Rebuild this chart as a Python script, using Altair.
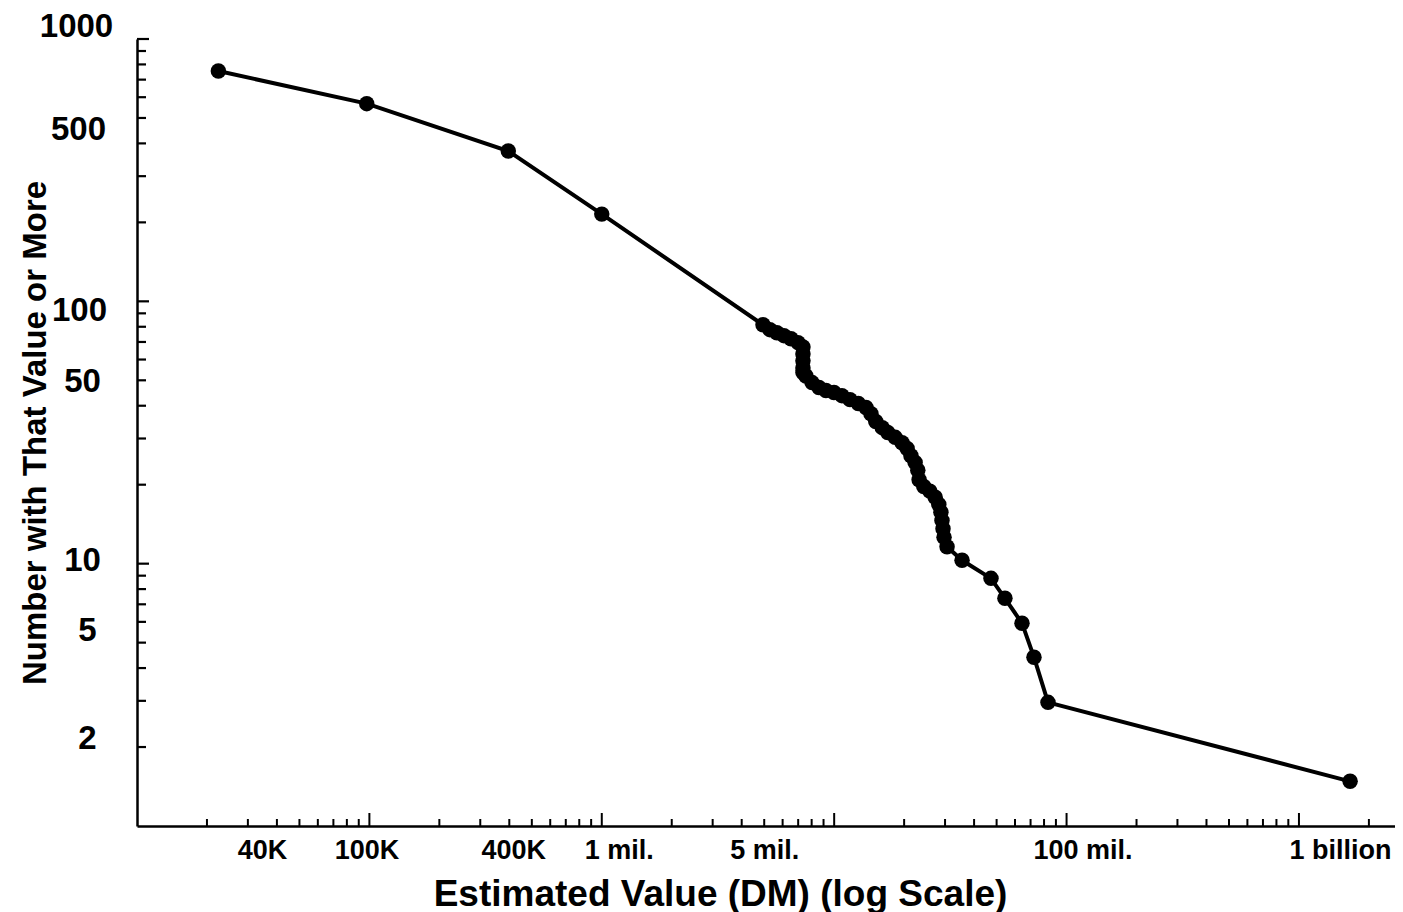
import altair as alt
import pandas as pd

# ---- data ----
est_value = [22400, 97400, 396000, 1.0e6,
             4.94e6, 5.29e6, 5.67e6, 6.08e6, 6.52e6, 6.99e6,
             7.34e6, 7.34e6, 7.34e6, 7.34e6, 7.34e6, 7.56e6,
             8.03e6, 8.60e6, 9.22e6, 9.98e6, 1.08e7, 1.17e7, 1.27e7, 1.37e7,
             1.44e7, 1.51e7, 1.61e7, 1.70e7, 1.83e7, 1.96e7, 2.06e7, 2.14e7,
             2.23e7, 2.29e7, 2.32e7, 2.43e7, 2.58e7, 2.72e7, 2.82e7, 2.88e7,
             2.91e7, 2.94e7, 2.97e7, 3.06e7, 3.55e7,
             4.73e7, 5.43e7, 6.43e7, 7.24e7, 8.32e7, 1.66e9]
num_with_value = [755, 567, 374, 215,
                  81.4, 78.0, 75.9, 74.0, 72.0, 69.6,
                  67.0, 63.0, 59.3, 55.7, 53.5, 51.9,
                  49.0, 46.9, 45.7, 44.9, 43.7, 42.2, 40.8, 39.4,
                  37.3, 34.8, 33.0, 31.6, 30.3, 28.9, 27.5, 25.8,
                  24.3, 22.7, 20.9, 19.7, 18.9, 17.9, 16.8, 15.7,
                  14.6, 13.6, 12.6, 11.6, 10.3,
                  8.79, 7.38, 5.93, 4.40, 2.96, 1.48]

x_label_values = [4e4, 1e5, 4e5, 1e6, 5e6, 1e8, 1e9]
x_label_texts = ["40K", "100K", "400K", "1 mil.", "5 mil.", "100 mil.", "1 billion"]
y_label_values = [2, 5, 10, 50, 100, 500, 1000]
y_label_texts = ["2", "5", "10", "50", "100", "500", "1000"]

x_major_ticks = [1e5, 1e6, 1e7, 1e8, 1e9]
x_minor_ticks = [m * 10 ** e for e in range(4, 10) for m in range(2, 10) if m * 10 ** e < 2.5e9]
y_major_ticks = [10, 100, 1000]
y_minor_ticks = [m * 10 ** e for e in range(0, 3) for m in range(2, 10)]

W, H = 1258, 787
FONT = "Liberation Sans"

df = pd.DataFrame({"i": list(range(len(est_value))), "x": est_value, "y": num_with_value})


def label_expr(vals, texts):
    expr = "''"
    for v, t in reversed(list(zip(vals, texts))):
        expr = f"datum.value == {v:g} ? '{t}' : ({expr})"
    return expr


def cond(pairs, default):
    return {"condition": [{"test": f"datum.value == {v:g}", "value": o} for v, o in pairs],
            "value": default}


xscale = alt.Scale(type="log", domain=[1e4, 2.59e9], nice=False)
yscale = alt.Scale(type="log", domain=[1, 1000], nice=False)

x_axis = alt.Axis(
    values=x_label_values, labelExpr=label_expr(x_label_values, x_label_texts),
    ticks=False, tickSize=0, grid=False,
    domainColor="black", domainWidth=2.5,
    labelFont=FONT, labelFontSize=27, labelFontWeight="bold", labelColor="black",
    labelBaseline="alphabetic", labelAlign="center", labelPadding=32,
    labelFlush=False, labelOverlap=False,
    labelOffset=cond([(4e4, -15), (1e5, -3), (4e5, 4), (1e6, 17), (5e6, 0), (1e8, 16), (1e9, 41)], 0),
    title="Estimated Value (DM) (log Scale)",
    titleFont=FONT, titleFontSize=37, titleFontWeight="bold", titleColor="black",
    titleX=583, titleY=79, titleBaseline="alphabetic", titleAlign="center",
)

y_axis = alt.Axis(
    values=y_label_values, labelExpr=label_expr(y_label_values, y_label_texts),
    ticks=False, tickSize=0, grid=False,
    domainColor="black", domainWidth=2.5,
    labelFont=FONT, labelFontSize=33, labelFontWeight="bold", labelColor="black",
    labelBaseline="middle", labelAlign="center",
    labelPadding=cond([(1000, 61), (500, 59), (100, 58), (50, 55), (10, 55), (5, 50), (2, 50)], 55),
    labelOffset=cond([(1000, -13), (500, 12), (100, 9), (50, 1), (10, -3), (5, -12), (2, -9)], 0),
    labelFlush=False, labelOverlap=False,
    title="Number with That Value or More",
    titleFont=FONT, titleFontSize=33, titleFontWeight="bold", titleColor="black",
    titleX=-92, titleY=H / 2, titleAngle=270, titleBaseline="alphabetic", titleAlign="center",
)

X = alt.X("x:Q", scale=xscale, axis=x_axis)
Y = alt.Y("y:Q", scale=yscale, axis=y_axis)

base = alt.Chart(df).encode(x=X, y=Y, order=alt.Order("i:Q"))
line = base.mark_line(color="black", strokeWidth=4)
points = base.mark_circle(color="black", opacity=1, size=240)


def xticks(vals, length):
    return alt.Chart(pd.DataFrame({"x": vals})).mark_rule(color="black", strokeWidth=2).encode(
        x=X, y=alt.value(H), y2=alt.value(H - length))


def yticks(vals, length):
    return alt.Chart(pd.DataFrame({"y": vals})).mark_rule(color="black", strokeWidth=2.2).encode(
        y=Y, x=alt.value(0), x2=alt.value(length))


chart = alt.layer(
    line, points,
    xticks(x_major_ticks, 13), xticks(x_minor_ticks, 7),
    yticks(y_major_ticks, 12), yticks(y_minor_ticks, 9),
).properties(
    width=W, height=H,
    autosize=alt.AutoSizeParams(type="none"),
    padding={"left": 129, "top": 31, "right": 0, "bottom": 95},
    background="white",
).configure_view(stroke=None)

chart.save("out.html", embed_options={"renderer": "svg", "actions": False})
